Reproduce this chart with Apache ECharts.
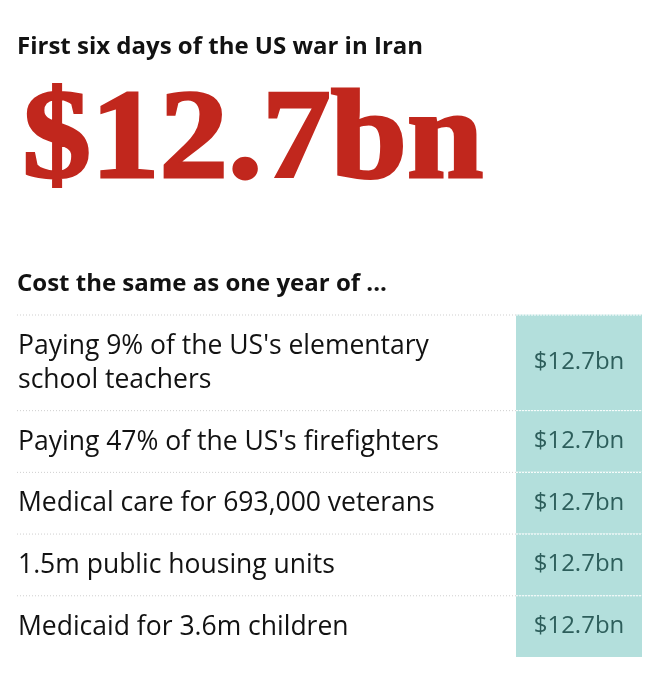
<!DOCTYPE html>
<html>
<head>
<meta charset="utf-8">
<script src="https://cdn.jsdelivr.net/npm/echarts@6/dist/echarts.min.js"></script>
<style>
  html, body { margin: 0; padding: 0; background: #fff; }
  #chart { width: 659px; height: 680px; }
</style>
</head>
<body>
<div id="chart"></div>
<script>
const headline = 'First six days of the US war in Iran';
const bigFigure = '$12.7bn';
const subhead = 'Cost the same as one year of ...';

const items = [
  "Paying 9% of the US's elementary\nschool teachers",
  "Paying 47% of the US's firefighters",
  'Medical care for 693,000 veterans',
  '1.5m public housing units',
  'Medicaid for 3.6m children'
];
const costs = [12.7, 12.7, 12.7, 12.7, 12.7];

// each row is one unit tall, plus a bit for every extra line of text
const rows = [];
let acc = 0;
items.forEach(function (name, i) {
  const lines = name.split('\n').length;
  const h = 1 + (lines - 1) * 0.55;
  rows.push([acc, acc + h, costs[i], i]);
  acc += h;
});

const chart = echarts.init(document.getElementById('chart'));

const CELL_W = 126;

option = {
  animation: false,
  backgroundColor: '#fff',
  title: [
    {
      text: headline,
      left: 17,
      top: 35,
      padding: 0,
      textStyle: { fontFamily: 'Open Sans', fontWeight: 'bold', fontSize: 24, color: '#121212' }
    },
    {
      text: subhead,
      left: 17,
      top: 272,
      padding: 0,
      textStyle: { fontFamily: 'Open Sans', fontWeight: 'bold', fontSize: 24, color: '#121212' }
    }
  ],
  graphic: [
    {
      type: 'text',
      left: 21,
      top: 78,
      scaleX: 1.07,
      style: {
        text: bigFigure,
        font: 'bold 128px "Liberation Serif"',
        fill: '#c1271d',
        stroke: '#c1271d',
        lineWidth: 3
      }
    }
  ],
  grid: { left: 17, right: 17, top: 314.5, bottom: 23 },
  xAxis: { type: 'value', min: 0, max: 1, show: false },
  yAxis: { type: 'value', min: 0, max: acc, inverse: true, show: false },
  series: [
    {
      type: 'custom',
      data: rows,
      encode: { y: [0, 1] },
      renderItem: function (params, api) {
        const cs = params.coordSys;
        const y0 = api.coord([0, api.value(0)])[1];
        const y1 = api.coord([0, api.value(1)])[1];
        const idx = api.value(3);
        const cellX = cs.x + cs.width - CELL_W;
        const midY = (y0 + y1) / 2;
        return {
          type: 'group',
          children: [
            {
              type: 'rect',
              shape: { x: cellX, y: y0, width: CELL_W, height: y1 - y0 },
              style: { fill: '#b3dfdc' }
            },
            {
              type: 'line',
              shape: { x1: cs.x, y1: y0 + 0.5, x2: cellX, y2: y0 + 0.5 },
              style: { stroke: '#cfcfcf', lineWidth: 1, lineDash: [1, 2] }
            },
            {
              type: 'line',
              shape: { x1: cellX, y1: y0 + 0.5, x2: cs.x + cs.width, y2: y0 + 0.5 },
              style: { stroke: '#ffffff', lineWidth: 1, lineDash: [2, 1] }
            },
            {
              type: 'text',
              x: cs.x + 1,
              y: midY + 1,
              style: {
                text: items[idx],
                font: '26.5px "Open Sans"',
                lineHeight: 34,
                fill: '#121212',
                verticalAlign: 'middle',
                align: 'left'
              }
            },
            {
              type: 'text',
              x: cellX + CELL_W / 2,
              y: midY,
              style: {
                text: '$' + api.value(2) + 'bn',
                font: '24px "Open Sans"',
                fill: '#2d5e5b',
                verticalAlign: 'middle',
                align: 'center'
              }
            }
          ]
        };
      }
    }
  ]
};

chart.setOption(option);
</script>
</body>
</html>
